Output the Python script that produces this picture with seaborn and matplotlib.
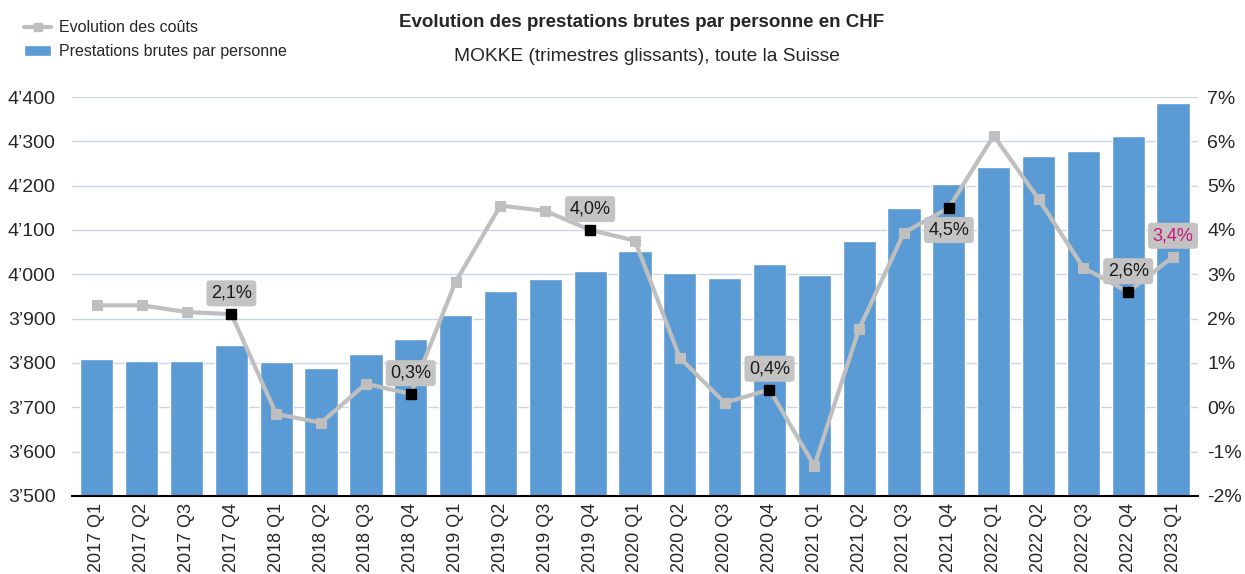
import numpy as np
import pandas as pd
import seaborn as sns
import matplotlib.pyplot as plt
from matplotlib.lines import Line2D
from matplotlib.patches import Patch
from matplotlib.ticker import FuncFormatter

# Data
quarters = ['2017 Q1', '2017 Q2', '2017 Q3', '2017 Q4',
            '2018 Q1', '2018 Q2', '2018 Q3', '2018 Q4',
            '2019 Q1', '2019 Q2', '2019 Q3', '2019 Q4',
            '2020 Q1', '2020 Q2', '2020 Q3', '2020 Q4',
            '2021 Q1', '2021 Q2', '2021 Q3', '2021 Q4',
            '2022 Q1', '2022 Q2', '2022 Q3', '2022 Q4',
            '2023 Q1']
prestations = [3808, 3805, 3805, 3841, 3802, 3789, 3820, 3855,
               3908, 3963, 3990, 4008, 4053, 4003, 3992, 4024,
               3999, 4076, 4150, 4204, 4243, 4266, 4279, 4313,
               4387]
evolution = [2.3, 2.3, 2.15, 2.1, -0.15, -0.35, 0.53, 0.3,
             2.83, 4.55, 4.43, 4.0, 3.76, 1.12, 0.1, 0.4,
             -1.32, 1.77, 3.94, 4.5, 6.13, 4.7, 3.15, 2.6,
             3.4]
# labelled points: index -> (text, placement)
labels = {3: ('2,1%', 'above'), 7: ('0,3%', 'above'), 11: ('4,0%', 'above'),
          15: ('0,4%', 'above'), 19: ('4,5%', 'below'), 23: ('2,6%', 'above'),
          24: ('3,4%', 'above')}

df = pd.DataFrame({'quarter': quarters, 'prestations': prestations,
                   'evolution': evolution})

sns.set_style("white")
plt.rcParams['font.family'] = ['Liberation Sans', 'DejaVu Sans']

bar_color = '#5B9BD5'
line_color = '#BFBFBF'
grid_color = '#C9D6EA'

fig = plt.figure(figsize=(12.45, 5.74), dpi=100)
ax = fig.add_axes([0.058, 0.136, 0.904, 0.695])

sns.barplot(data=df, x='quarter', y='prestations', color=bar_color,
            saturation=1, width=0.74, ax=ax)
ax.set_ylim(3500, 4400)
ax.set_yticks(range(3500, 4401, 100))
ax.yaxis.set_major_formatter(FuncFormatter(
    lambda v, p: f"{int(v) // 1000}\u2019{int(v) % 1000:03d}"))
ax.set_xlim(-0.55, len(quarters) - 0.45)
ax.grid(axis='y', color=grid_color, linewidth=1)
ax.set_axisbelow(True)
ax.set_xlabel('')
ax.set_ylabel('')
for s in ['top', 'left', 'right']:
    ax.spines[s].set_visible(False)
ax.spines['bottom'].set_color('black')
ax.spines['bottom'].set_linewidth(1.5)
ax.tick_params(axis='x', rotation=90, labelsize=13, length=0, pad=5)
ax.tick_params(axis='y', labelsize=14, length=0, pad=12)

ax2 = ax.twinx()
x = np.arange(len(quarters))
sns.lineplot(x=x, y=evolution, ax=ax2, color=line_color, linewidth=3,
             marker='s', markersize=6.5, markeredgecolor=line_color)
ax2.set_ylim(-2, 7)
ax2.set_yticks(range(-2, 8))
ax2.yaxis.set_major_formatter(FuncFormatter(lambda v, p: f"{int(v)}%"))
ax2.tick_params(axis='y', labelsize=14, length=0, pad=7)
for s in ['top', 'left', 'right', 'bottom']:
    ax2.spines[s].set_visible(False)
ax2.set_ylabel('')

for i, (txt, where) in labels.items():
    if i != 24:
        ax2.plot(x[i], evolution[i], marker='s', color='black',
                 markersize=7, linestyle='none', zorder=5)
    dy = 15 if where == 'above' else -16
    color = '#C8177A' if i == 24 else '#1a1a1a'
    ax2.annotate(txt, (x[i], evolution[i]), xytext=(0, dy),
                 textcoords='offset points', ha='center', va='center',
                 fontsize=13, color=color, zorder=6,
                 bbox=dict(boxstyle='round,pad=0.25,rounding_size=0.2',
                           fc='#C3C3C3', ec='none'))

fig.text(0.515, 0.96, 'Evolution des prestations brutes par personne en CHF',
         ha='center', va='center', fontsize=13.5, fontweight='bold')
fig.text(0.52, 0.902, 'MOKKE (trimestres glissants), toute la Suisse',
         ha='center', va='center', fontsize=13.8)

handles = [Line2D([0], [0], color=line_color, linewidth=3, marker='s',
                  markersize=6),
           Patch(facecolor=bar_color)]
fig.legend(handles, ['Evolution des coûts', 'Prestations brutes par personne'],
           loc='upper left', bbox_to_anchor=(0.008, 0.99), frameon=False,
           fontsize=11.5, handlelength=1.7, handletextpad=0.5,
           labelspacing=0.55)

fig.savefig('out.png', dpi=100)
